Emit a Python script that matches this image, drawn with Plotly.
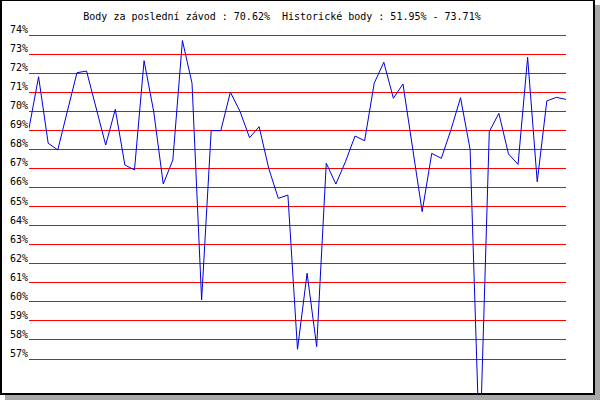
import plotly.graph_objects as go

# Data
values = [69.1, 71.81, 68.32, 67.97, 70.0, 72.02, 72.11, 70.15, 68.23, 70.1,
          67.18, 66.92, 72.65, 70.0, 66.18, 67.44, 73.71, 71.47, 60.1, 68.98,
          68.98, 71.0, 70.0, 68.61, 69.19, 67.0, 65.43, 65.6, 57.51, 61.5,
          57.65, 67.27, 66.18, 67.35, 68.7, 68.45, 71.47, 72.57, 70.68, 71.43,
          68.0, 64.73, 67.79, 67.53, 69.02, 70.71, 68.0, 51.95, 68.93, 69.89,
          67.76, 67.21, 72.83, 66.3, 70.54, 70.73, 70.62]
races = list(range(1, len(values) + 1))
tick_vals = list(range(57, 75))
tick_text = [f"{v}%" for v in tick_vals]
title_text = "Body za poslední závod : 70.62%  Historické body : 51.95% - 73.71%"

W, H = 600, 400
L, R, T, B = 29, 34, 24, 7
PW, PH = W - L - R, H - T - B
PX_PER_PCT = 19.06
TOP_GRID_PX = 35  # pixel row of the 74% gridline
y_range = [74 - (H - B - TOP_GRID_PX) / PX_PER_PCT, 74 + (TOP_GRID_PX - T) / PX_PER_PCT]
label_shift = 5.5 / PX_PER_PCT  # labels sit just above their gridline

def px(x):
    return (x - L) / PW

def py(y):
    return (H - B - y) / PH

FONT = "DejaVu Sans Mono"

fig = go.Figure()
fig.add_trace(go.Scatter(x=races, y=values, mode="lines",
                         line=dict(color="#0000DD", width=1),
                         hoverinfo="skip", showlegend=False))

def rect(x0, x1, y0, y1, color):
    return dict(type="rect", xref="paper", yref="paper",
                x0=px(x0), x1=px(x1), y0=py(y0), y1=py(y1),
                fillcolor=color, line=dict(width=0), layer="below")

shapes = [
    rect(5, 600, 5, 400, "#A8A8A8"),   # shadow
    rect(0, 595, 0, 395, "white"),     # panel
    rect(0, 2, 0, 395, "black"),
    rect(0, 595, 0, 1, "black"),
    rect(593, 595, 0, 395, "black"),
    rect(0, 595, 393, 395, "black"),
]

fig.update_layout(
    width=W, height=H,
    margin=dict(l=L, r=R, t=T, b=B, pad=0, autoexpand=False),
    paper_bgcolor="white",
    plot_bgcolor="rgba(0,0,0,0)",
    shapes=shapes,
    hovermode=False,
    font=dict(family=FONT, size=10, color="black"),
    title=dict(text=title_text, xref="container", yref="container",
               x=282 / W, y=1 - 16 / H, xanchor="center", yanchor="middle",
               font=dict(family=FONT, size=10, color="black")),
    xaxis=dict(range=[1, len(values)], showgrid=False, zeroline=False,
               showticklabels=False, showline=False, ticks="", automargin=False),
    yaxis=dict(range=y_range, tickvals=tick_vals, showticklabels=False,
               showgrid=True, gridcolor="#FF0000", gridwidth=1,
               zeroline=False, showline=False, ticks="", automargin=False),
    yaxis2=dict(range=y_range, overlaying="y", side="left",
                tickvals=[v + label_shift for v in tick_vals], ticktext=tick_text,
                showgrid=False, zeroline=False, showline=False, ticks="",
                automargin=False, ticklabelstandoff=0,
                tickfont=dict(family=FONT, size=10, color="black")),
)
fig.add_trace(go.Scatter(x=[None], y=[None], yaxis="y2", showlegend=False,
                         hoverinfo="skip"))

fig.write_html("out.html",
               config={"displayModeBar": False, "staticPlot": True},
               post_script="document.body.style.margin='0';document.body.style.padding='0';")
